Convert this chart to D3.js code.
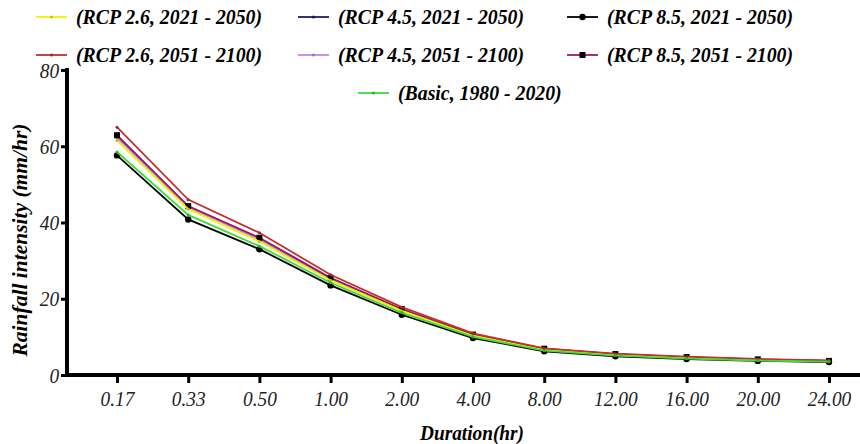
<!DOCTYPE html>
<html><head><meta charset="utf-8">
<script src="https://cdn.jsdelivr.net/npm/d3@7"></script>
<style>body{margin:0;background:#fff}svg{display:block}text{font-family:"Liberation Serif","Times New Roman",serif}</style>
</head><body><svg id="c" width="860" height="444"></svg>
<script>
const durations = ["0.17","0.33","0.50","1.00","2.00","4.00","8.00","12.00","16.00","20.00","24.00"];
const yTicks = [0,20,40,60,80];
const rcp26_2021 = [61.5,43.5,35.0,24.8,16.8,10.3,6.6,5.3,4.5,3.9,3.6];
const rcp45_2021 = [62.6,44.2,35.8,25.3,17.1,10.5,6.8,5.4,4.6,4.0,3.7];
const rcp85_2021 = [57.6,40.8,33.0,23.5,15.8,9.7,6.2,4.9,4.2,3.7,3.4];
const rcp26_2051 = [65.0,46.0,37.3,26.3,17.8,10.9,7.0,5.6,4.8,4.2,3.8];
const rcp45_2051 = [62.2,44.0,35.5,25.0,17.0,10.4,6.7,5.4,4.6,4.0,3.7];
const rcp85_2051 = [62.9,44.3,36.0,25.5,17.3,10.6,6.9,5.5,4.7,4.1,3.7];
const basic = [58.5,42.0,33.8,24.2,16.3,10.0,6.4,5.1,4.3,3.8,3.5];

const series = [
  {name:"(RCP 2.6, 2021 - 2050)", values:rcp26_2021, color:"#f2f200", marker:"dot"},
  {name:"(RCP 4.5, 2021 - 2050)", values:rcp45_2021, color:"#1c1c6b", marker:"dot"},
  {name:"(RCP 8.5, 2021 - 2050)", values:rcp85_2021, color:"#000000", marker:"circle"},
  {name:"(RCP 2.6, 2051 - 2100)", values:rcp26_2051, color:"#c03030", marker:"dot"},
  {name:"(RCP 4.5, 2051 - 2100)", values:rcp45_2051, color:"#c58be0", marker:"dot"},
  {name:"(RCP 8.5, 2051 - 2100)", values:rcp85_2051, color:"#9a1a6a", marker:"square"},
  {name:"(Basic, 1980 - 2020)", values:basic, color:"#3ddc3d", marker:"dot"}
];
const drawOrder = [2,1,4,5,0,3,6];

const svg = d3.select("#c");
const x = d3.scalePoint().domain(durations).range([117,829]);
const y = d3.scaleLinear().domain([0,80]).range([375,70]);

// axes
const yAxis = svg.append("g").attr("transform","translate(67,0)")
  .call(d3.axisLeft(y).tickValues(yTicks).tickSize(6).tickPadding(3));
yAxis.select(".domain").attr("stroke","#000").attr("stroke-width",4).attr("d","M0,68V377");
yAxis.selectAll(".tick line").attr("stroke-width",3);
yAxis.selectAll("text").attr("font-size",22).attr("font-style","italic").attr("fill","#222")
  .attr("transform","scale(0.88,1)");

const xAxis = svg.append("g").attr("transform","translate(0,375)")
  .call(d3.axisBottom(x).tickSize(8).tickPadding(7));
xAxis.select(".domain").attr("stroke","#000").attr("stroke-width",4).attr("d","M65,0H860");
xAxis.selectAll(".tick line").attr("stroke-width",3);
xAxis.selectAll("text").attr("font-size",22).attr("font-style","italic").attr("fill","#222")
  .attr("transform","scale(0.88,1)");

// titles
svg.append("text").attr("transform","translate(472,440) scale(0.92,1)").attr("text-anchor","middle")
  .attr("font-size",21).attr("font-weight","bold").attr("font-style","italic").text("Duration(hr)");
svg.append("text").attr("transform","translate(27,240) rotate(-90)").attr("text-anchor","middle")
  .attr("font-size",21.5).attr("font-weight","bold").attr("font-style","italic").text("Rainfall intensity (mm/hr)");

// lines
const line = d3.line().x((d,i)=>x(durations[i])).y(d=>y(d));
drawOrder.forEach(k=>{
  const s = series[k];
  const g = svg.append("g");
  g.append("path").attr("d",line(s.values)).attr("fill","none").attr("stroke",s.color).attr("stroke-width",1.8);
  drawMarkers(g, s, s.values.map((v,i)=>[x(durations[i]), y(v)]));
});

function drawMarkers(g, s, pts){
  pts.forEach(([px,py])=>{
    if(s.marker==="circle") g.append("circle").attr("cx",px).attr("cy",py).attr("r",3.2).attr("fill","#000");
    else if(s.marker==="square") g.append("rect").attr("x",px-3).attr("y",py-3).attr("width",6).attr("height",6).attr("fill","#000");
    else g.append("circle").attr("cx",px).attr("cy",py).attr("r",1.5).attr("fill",d3.color(s.color).darker(0.6));
  });
}

// legend
const legPos = [
  [36,17],[298,17],[567,17],
  [36,55],[298,55],[567,55],
  [358,93]
];
series.forEach((s,i)=>{
  const [lx,ly] = legPos[i];
  const g = svg.append("g");
  g.append("line").attr("x1",lx).attr("x2",lx+31).attr("y1",ly).attr("y2",ly).attr("stroke",s.color).attr("stroke-width",1.8);
  drawMarkers(g, s, [[lx+15.5, ly]]);
  g.append("text").attr("transform",`translate(${lx+40},${ly+7}) scale(0.9,1)`)
    .attr("font-size",22).attr("font-weight","bold").attr("font-style","italic").text(s.name);
});
</script></body></html>
